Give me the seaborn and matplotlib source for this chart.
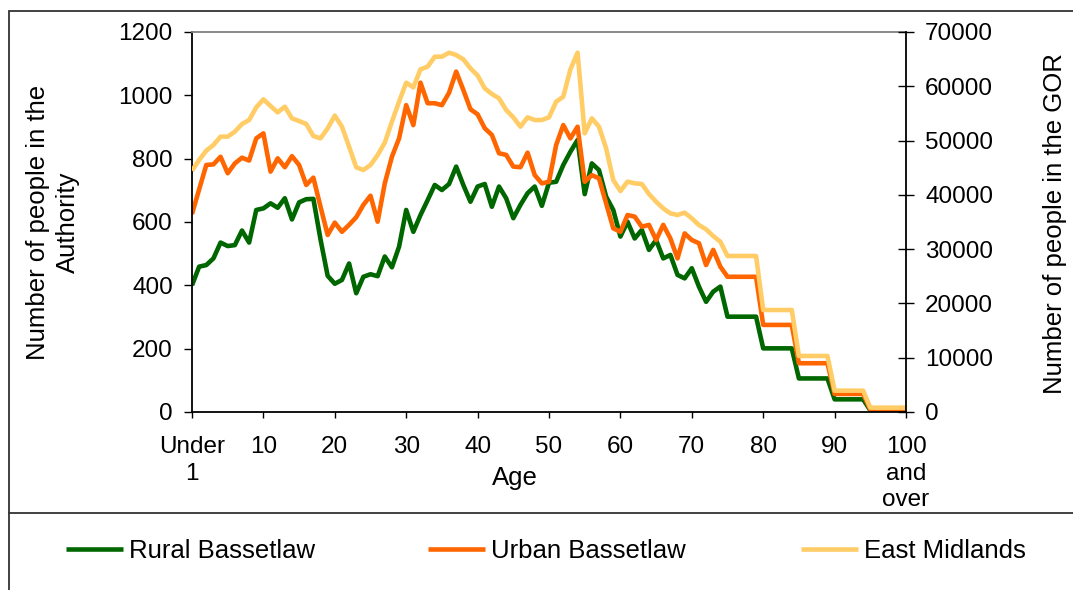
import matplotlib
matplotlib.use("Agg")
import matplotlib.pyplot as plt
import seaborn as sns
import pandas as pd
from matplotlib.lines import Line2D
from matplotlib.patches import Rectangle

# ---------------- data ----------------
ages = list(range(101))

rural = [400, 459, 464, 485, 535, 524, 527, 573, 535, 638,
         643, 659, 645, 675, 608, 662, 672, 673, 545, 430,
         405, 417, 469, 375, 427, 435, 429, 491, 457, 522,
         638, 569, 622, 669, 717, 701, 720, 775, 717, 664,
         712, 720, 648, 712, 675, 612, 654, 691, 712, 651,
         724, 727, 780, 822, 859, 688, 785, 764, 680, 638,
         554, 601, 548, 575, 512, 543, 485, 496, 433, 422,
         454, 396, 348, 380, 396, 301, 301, 301, 301, 301,
         201, 201, 201, 201, 201, 106, 106, 106, 106, 106,
         40, 40, 40, 40, 40, 5, 5, 5, 5, 5, 5]

urban = [625, 703, 780, 782, 806, 754, 785, 803, 794, 864,
         880, 759, 801, 773, 808, 780, 717, 740, 648, 559,
         598, 569, 591, 615, 654, 683, 601, 722, 806, 864,
         969, 906, 1040, 975, 975, 969, 1008, 1075, 1017, 956,
         940, 896, 875, 817, 812, 775, 773, 819, 748, 722,
         727, 843, 906, 864, 901, 727, 748, 738, 659, 580,
         569, 622, 617, 585, 591, 543, 591, 548, 485, 564,
         543, 533, 464, 512, 459, 427, 427, 427, 427, 427,
         275, 275, 275, 275, 275, 154, 154, 154, 154, 154,
         57, 57, 57, 57, 57, 8, 8, 8, 8, 8, 8]

east_midlands = [44450, 46420, 48140, 49180, 50720, 50720, 51640, 53050, 53790, 56120,
                 57590, 56370, 55200, 56240, 54090, 53600, 53050, 50840, 50410, 52250,
                 54600, 52560, 48870, 45070, 44580, 45500, 47340, 49610, 53480, 57160,
                 60660, 59800, 63120, 63610, 65450, 65450, 66190, 65760, 64960, 63300,
                 62000, 59620, 58580, 57780, 55630, 54280, 52560, 54280, 53790, 53790,
                 54280, 57160, 58080, 63120, 66190, 51330, 54090, 52560, 48570, 42730,
                 40700, 42430, 42120, 42000, 40160, 38740, 37510, 36590, 36290, 36720,
                 35670, 34440, 33650, 32410, 31370, 28740, 28740, 28740, 28740, 28740,
                 18790, 18790, 18790, 18790, 18790, 10320, 10320, 10320, 10320, 10320,
                 3930, 3930, 3930, 3930, 3930, 800, 800, 800, 800, 800, 800]

series_names = ["Rural Bassetlaw", "Urban Bassetlaw", "East Midlands"]
x_ticks = [0, 10, 20, 30, 40, 50, 60, 70, 80, 90, 100]
x_tick_labels = ["Under\n1", "10", "20", "30", "40", "50", "60", "70", "80", "90",
                 "100\nand\nover"]
left_ticks = [0, 200, 400, 600, 800, 1000, 1200]
right_ticks = [0, 10000, 20000, 30000, 40000, 50000, 60000, 70000]

# ---------------- style ----------------
GREEN = "#006600"
ORANGE = "#FF6600"
LIGHT = "#FFCC66"
FS = 17.5
FS_LAB = 18.5
W, H = 1073, 590

sns.set_theme(style="white")
plt.rcParams['font.family'] = ['Liberation Sans', 'DejaVu Sans']
plt.rcParams['text.color'] = 'black'
plt.rcParams['axes.labelcolor'] = 'black'
plt.rcParams['xtick.color'] = 'black'
plt.rcParams['ytick.color'] = 'black'

df = pd.DataFrame({"Age": ages, series_names[0]: rural,
                   series_names[1]: urban, series_names[2]: east_midlands})

fig = plt.figure(figsize=(W / 100, H / 100), dpi=100)
ax = fig.add_axes([192 / W, (H - 412) / H, (906 - 192) / W, (412 - 32) / H])
ax2 = ax.twinx()

line_kw = dict(linewidth=3.3, solid_joinstyle="round", solid_capstyle="butt")
sns.lineplot(data=df, x="Age", y=series_names[0], ax=ax, color=GREEN, legend=False, **line_kw)
sns.lineplot(data=df, x="Age", y=series_names[1], ax=ax, color=ORANGE, legend=False, **line_kw)
sns.lineplot(data=df, x="Age", y=series_names[2], ax=ax2, color=LIGHT, legend=False, **line_kw)

ax.set_xlim(0, 100)
ax.set_ylim(0, 1200)
ax2.set_ylim(0, 70000)
ax.set_xticks(x_ticks)
ax.set_xticklabels(x_tick_labels, fontsize=FS, linespacing=1.25)
ax.set_yticks(left_ticks)
ax.set_yticklabels([str(v) for v in left_ticks], fontsize=FS)
ax2.set_yticks(right_ticks)
ax2.set_yticklabels([str(v) for v in right_ticks], fontsize=FS)
ax.set_xlabel("")
ax.set_ylabel("")
ax2.set_ylabel("")

ax.tick_params(axis="y", left=True, direction="out", length=5.8, width=1, pad=8.0, colors="black")
ax.tick_params(axis="x", bottom=True, direction="out", length=4.5, width=1, pad=13, colors="black")
ax2.tick_params(axis="y", right=True, left=False, direction="inout", length=11.5, width=1, pad=8.0,
                colors="black")

for s in ["left", "bottom"]:
    ax.spines[s].set_color("black")
    ax.spines[s].set_linewidth(1.3)
ax.spines["top"].set_color("#808080")
ax.spines["top"].set_linewidth(1.3)
ax.spines["right"].set_visible(False)
for s in ["left", "bottom", "top"]:
    ax2.spines[s].set_visible(False)
ax2.spines["right"].set_color("black")
ax2.spines["right"].set_linewidth(1.3)
ax.grid(False)
ax2.grid(False)

# axis titles
fig.text(53 / W, (H - 222) / H, "Number of people in the\nAuthority", rotation=90,
         ha="center", va="center", rotation_mode="anchor", fontsize=FS_LAB,
         multialignment="center", linespacing=1.3)
fig.text(1055 / W, (H - 224) / H, "Number of people in the GOR", rotation=90,
         ha="center", va="center", rotation_mode="anchor", fontsize=FS_LAB)
fig.text(515 / W, (H - 478) / H, "Age", ha="center", va="center", fontsize=FS_LAB)

# outer frame and separator
fig.patches.append(Rectangle((9 / W, -0.05), 1.2, (H - 10.7) / H + 0.05,
                             transform=fig.transFigure, fill=False,
                             edgecolor="#333333", linewidth=1.3))
fig.lines.append(Line2D([9 / W, 1.0], [(H - 513) / H, (H - 513) / H],
                        transform=fig.transFigure, color="#333333", linewidth=1.3))

# legend (three evenly placed entries)
handles = [ax.lines[0], ax.lines[1], ax2.lines[0]]
starts = [66, 428, 801]
for h, name, x0 in zip(handles, series_names, starts):
    fig.legend(handles=[h], labels=[name], loc="center left",
               bbox_to_anchor=(x0 / W, (H - 551) / H), frameon=False, fontsize=FS_LAB,
               handlelength=2.2, handletextpad=0.27, borderpad=0, borderaxespad=0)

fig.savefig("out.png", dpi=100)
